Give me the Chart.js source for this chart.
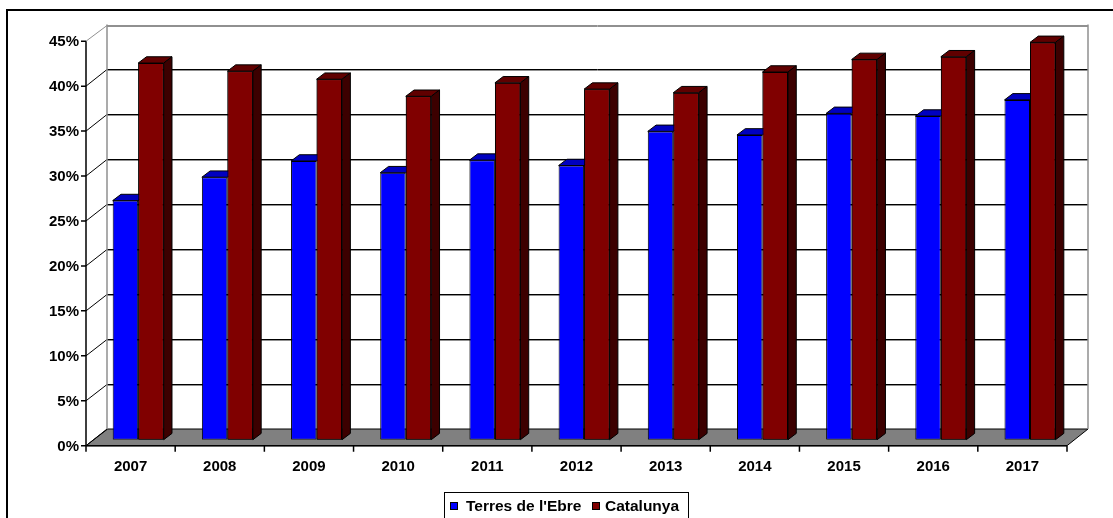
<!DOCTYPE html>
<html>
<head>
<meta charset="utf-8">
<script src="https://cdn.jsdelivr.net/npm/chart.js@4.4.1/dist/chart.umd.min.js"></script>
<style>
html,body{margin:0;padding:0;background:#ffffff;}
#wrap{position:relative;width:1113px;height:518px;overflow:hidden;}
canvas{display:block;}
</style>
</head>
<body>
<div id="wrap"><canvas id="c" width="1113" height="518"></canvas></div>
<script>
// ---- data ----
const years = ['2007','2008','2009','2010','2011','2012','2013','2014','2015','2016','2017'];
const terresEbre = [26.6, 29.2, 31.0, 29.7, 31.1, 30.5, 34.3, 33.9, 36.3, 36.0, 37.8];
const catalunya  = [41.9, 41.0, 40.1, 38.2, 39.7, 39.0, 38.6, 40.9, 42.3, 42.6, 44.2];
const seriesNames = ["Terres de l'Ebre", "Catalunya"];
const yTickValues = [0, 5, 10, 15, 20, 25, 30, 35, 40, 45];
const yTickLabels = ['0%', '5%', '10%', '15%', '20%', '25%', '30%', '35%', '40%', '45%'];

// ---- styles ----
const FONT = 'bold 15px "Liberation Sans", Arial, sans-serif';
const LEGEND_FONT = 'bold 15.5px "Liberation Sans", Arial, sans-serif';
const frontColors = ['#0000ff', '#800000'];
const topColors   = ['#0000c0', '#600000'];
const sideColors  = ['#000080', '#3c0000'];
const FDX = -7.6, FDY = 6.0;     // front plane offset from bar plane
const BDX = 13.4, BDY = -10.7;   // back wall offset from bar plane
const DX = 8.3, DY = 6.3;        // bar depth

const threeD = {
  id: 'threeD',
  beforeDatasetsDraw(chart) {
    const ctx = chart.ctx;
    const xs = chart.scales.x, ys = chart.scales.y;
    const L = xs.left, R = xs.right;
    const y0 = ys.getPixelForValue(yTickValues[0]);
    const yT = ys.getPixelForValue(yTickValues[yTickValues.length - 1]);
    ctx.save();
    // outer frame
    ctx.strokeStyle = '#000';
    ctx.lineWidth = 2;
    ctx.strokeRect(7, 10, 1300, 700);
    // floor
    ctx.beginPath();
    ctx.moveTo(L + FDX, y0 + FDY);
    ctx.lineTo(R + FDX, y0 + FDY);
    ctx.lineTo(R + BDX, y0 + BDY);
    ctx.lineTo(L + BDX, y0 + BDY);
    ctx.closePath();
    ctx.fillStyle = '#808080';
    ctx.fill();
    ctx.lineWidth = 1;
    ctx.strokeStyle = '#000';
    ctx.stroke();
    // gridlines
    yTickValues.forEach((v, i) => {
      const y = Math.round(ys.getPixelForValue(v) + BDY) + 0.5;
      const yf = ys.getPixelForValue(v) + FDY;
      const last = i === yTickValues.length - 1;
      if (i > 0) {
        ctx.strokeStyle = '#909090';
        ctx.lineWidth = 1;
        ctx.beginPath();
        ctx.moveTo(L + BDX, y + 1); ctx.lineTo(R + BDX, y + 1);
        ctx.stroke();
      }
      ctx.strokeStyle = last ? '#909090' : '#000';
      ctx.lineWidth = 1;
      ctx.beginPath();
      ctx.moveTo(L + FDX, yf);
      ctx.lineTo(L + BDX, y);
      if (i > 0) ctx.lineTo(R + BDX, y);
      ctx.stroke();
    });
    // back wall side borders
    ctx.strokeStyle = '#909090';
    ctx.lineWidth = 1.5;
    ctx.beginPath();
    ctx.moveTo(L + BDX, yT + BDY); ctx.lineTo(L + BDX, y0 + BDY);
    ctx.moveTo(R + BDX, yT + BDY); ctx.lineTo(R + BDX, y0 + BDY);
    ctx.stroke();
    // front value axis
    ctx.strokeStyle = '#000';
    ctx.lineWidth = 1.5;
    ctx.beginPath();
    ctx.moveTo(L + FDX, yT + FDY); ctx.lineTo(L + FDX, y0 + FDY);
    yTickValues.forEach(v => {
      const y = ys.getPixelForValue(v) + FDY;
      ctx.moveTo(L + FDX - 5, y); ctx.lineTo(L + FDX, y);
    });
    ctx.stroke();
    // category axis
    ctx.beginPath();
    ctx.moveTo(L + FDX, y0 + FDY); ctx.lineTo(R + FDX, y0 + FDY);
    const cw = (R - L) / years.length;
    for (let i = 0; i <= years.length; i++) {
      const x = L + i * cw + FDX;
      ctx.moveTo(x, y0 + FDY); ctx.lineTo(x, y0 + FDY + 6);
    }
    ctx.stroke();
    // labels
    ctx.fillStyle = '#000';
    ctx.font = FONT;
    ctx.textAlign = 'right';
    ctx.textBaseline = 'middle';
    yTickValues.forEach((v, i) => {
      ctx.fillText(yTickLabels[i], L + FDX - 7, ys.getPixelForValue(v) + FDY + 1);
    });
    ctx.textAlign = 'center';
    years.forEach((lab, i) => {
      ctx.fillText(lab, xs.getPixelForValue(i) + FDX, y0 + FDY + 21);
    });
    ctx.restore();
  },
  afterDatasetsDraw(chart) {
    const ctx = chart.ctx;
    const n = chart.data.datasets.length;
    ctx.save();
    ctx.strokeStyle = '#000';
    ctx.lineWidth = 1;
    for (let d = 0; d < n; d++) {
      const meta = chart.getDatasetMeta(d);
      meta.data.forEach(el => {
        const p = el.getProps(['x', 'y', 'base', 'width'], true);
        const x0 = p.x - p.width / 2, x1 = p.x + p.width / 2;
        if (d > 0) el.draw(ctx, chart.chartArea);
        // top face
        ctx.beginPath();
        ctx.moveTo(x0, p.y); ctx.lineTo(x1, p.y);
        ctx.lineTo(x1 + DX, p.y - DY); ctx.lineTo(x0 + DX, p.y - DY);
        ctx.closePath();
        ctx.fillStyle = topColors[d];
        ctx.fill(); ctx.stroke();
        if (d === n - 1) {
          ctx.beginPath();
          ctx.moveTo(x1, p.y); ctx.lineTo(x1 + DX, p.y - DY);
          ctx.lineTo(x1 + DX, p.base - DY); ctx.lineTo(x1, p.base);
          ctx.closePath();
          ctx.fillStyle = sideColors[d];
          ctx.fill(); ctx.stroke();
        }
      });
    }
    // legend
    ctx.fillStyle = '#fff';
    ctx.fillRect(444, 492, 244, 40);
    ctx.strokeStyle = '#000';
    ctx.lineWidth = 1;
    ctx.strokeRect(444.5, 492.5, 244, 40);
    ctx.font = LEGEND_FONT;
    ctx.textAlign = 'left';
    ctx.textBaseline = 'middle';
    const items = [{sx: 450, tx: 466}, {sx: 592, tx: 605}];
    chart.data.datasets.forEach((ds, i) => {
      ctx.fillStyle = ds.backgroundColor;
      ctx.fillRect(items[i].sx, 502, 8, 8);
      ctx.strokeRect(items[i].sx + 0.5, 502.5, 7, 7);
      ctx.fillStyle = '#000';
      ctx.fillText(ds.label, items[i].tx, 507);
    });
    ctx.restore();
  }
};

new Chart(document.getElementById('c'), {
  type: 'bar',
  data: {
    labels: years,
    datasets: [
      { label: seriesNames[0], data: terresEbre, backgroundColor: frontColors[0],
        borderColor: '#000', borderWidth: 1, borderSkipped: false },
      { label: seriesNames[1], data: catalunya, backgroundColor: frontColors[1],
        borderColor: '#000', borderWidth: 1, borderSkipped: false }
    ]
  },
  options: {
    responsive: false,
    animation: false,
    devicePixelRatio: 1,
    layout: { padding: { left: 93.6, right: 38.4, top: 35.2, bottom: 78.3 } },
    datasets: { bar: { categoryPercentage: 0.572, barPercentage: 1.0 } },
    scales: {
      x: { display: false, offset: true },
      y: { display: false, min: 0, max: 45 }
    },
    plugins: { legend: { display: false }, tooltip: { enabled: false } }
  },
  plugins: [threeD]
});
</script>
</body>
</html>
